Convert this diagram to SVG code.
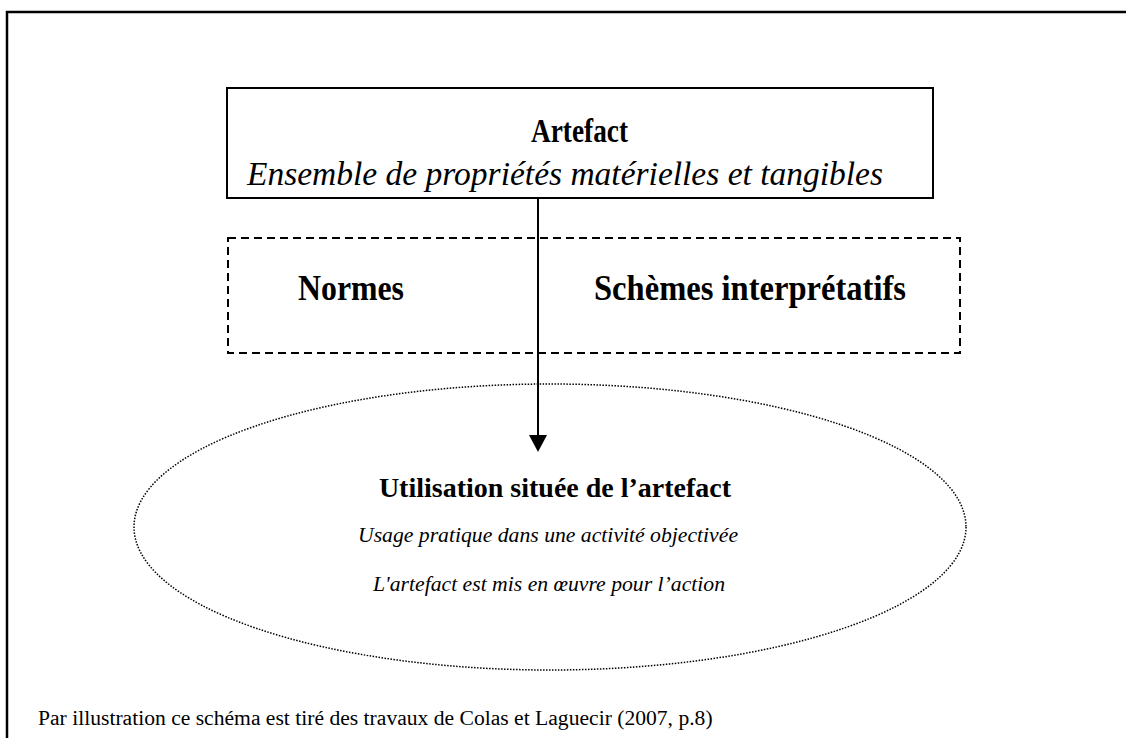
<svg xmlns="http://www.w3.org/2000/svg" width="1126" height="738" viewBox="0 0 1126 738">
<style>
.t{font-family:"Liberation Serif","Times New Roman",serif;fill:#000}
.b{font-weight:bold}
.i{font-style:italic}
.c{text-anchor:middle}
.solid{fill:none;stroke:#000;stroke-width:2}
</style>
<rect width="1126" height="738" fill="#fff"/>
<path d="M7,738 V12 H1126" fill="none" stroke="#000" stroke-width="2.5"/>
<g id="artefact">
<rect class="solid" x="227" y="88" width="706" height="110"/>
<text class="t b" x="531" y="142" font-size="33" textLength="97" lengthAdjust="spacingAndGlyphs">Artefact</text>
<text class="t i c" x="565" y="185" font-size="33.5">Ensemble de propriétés matérielles et tangibles</text>
</g>
<g id="mediation">
<rect x="228" y="238" width="732" height="115" fill="none" stroke="#000" stroke-width="2" stroke-dasharray="8,5"/>
<text class="t b" x="298" y="300" font-size="36" textLength="106" lengthAdjust="spacingAndGlyphs">Normes</text>
<text class="t b" x="594" y="300" font-size="36" textLength="312" lengthAdjust="spacingAndGlyphs">Schèmes interprétatifs</text>
</g>
<g id="usage">
<ellipse cx="550" cy="527" rx="416" ry="143" fill="none" stroke="#000" stroke-width="1.5" stroke-dasharray="1.5,1.5"/>
<text class="t b c" x="555" y="497" font-size="28">Utilisation située de l’artefact</text>
<text class="t i c" x="548" y="542" font-size="21.7">Usage pratique dans une activité objectivée</text>
<text class="t i c" x="549" y="591" font-size="21.7">L'artefact est mis en œuvre pour l’action</text>
</g>
<g id="connectors">
<line x1="538" y1="198" x2="538" y2="436" stroke="#000" stroke-width="2"/>
<polygon points="529,435 547,435 538,452" fill="#000"/>
</g>
<g id="caption">
<text class="t" x="38" y="725" font-size="21.6">Par illustration ce schéma est tiré des travaux de Colas et Laguecir (2007, p.8)</text>
</g>
</svg>
